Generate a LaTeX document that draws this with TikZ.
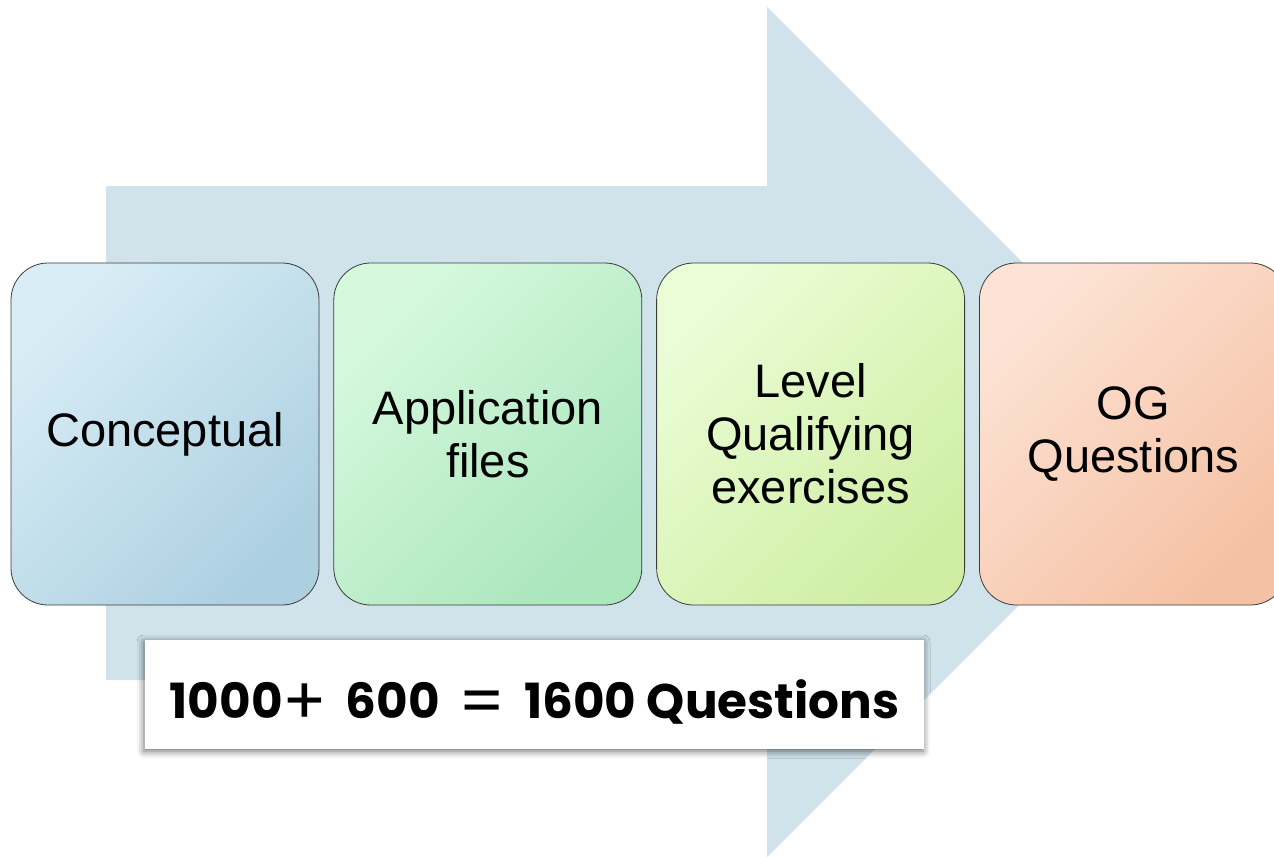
\documentclass[tikz,border=0pt]{standalone}
\usepackage{fontspec}
\usepackage{tikz}
\usetikzlibrary{positioning,shadows.blur}
\setmainfont{Liberation Sans}
\newfontfamily\totalfont{Poppins}
\definecolor{arrowfill}{HTML}{D0E2EA}
\definecolor{stageedge}{HTML}{3C3C3C}
\definecolor{conceptlight}{HTML}{D8EDF6}
\definecolor{conceptdark}{HTML}{ADD0E1}
\definecolor{applylight}{HTML}{D6F9DE}
\definecolor{applydark}{HTML}{ABE6BD}
\definecolor{levellight}{HTML}{EAFDD6}
\definecolor{leveldark}{HTML}{CFEEA4}
\definecolor{oglight}{HTML}{FDE3D5}
\definecolor{ogdark}{HTML}{F5C1A4}
\newcommand{\bigop}[1]{{\mdseries\raisebox{-6pt}{\scalebox{1.35}{#1}}}}
\tikzstyle{stagebox} = [
    rectangle,
    rounded corners=37pt,
    draw=stageedge,
    line width=0.8pt,
    minimum width=308pt,
    minimum height=342pt,
    text width=290pt,
    align=center,
    font=\fontsize{47}{53}\selectfont
    ]
\tikzstyle{totalbox} = [
    fill=white,
    minimum width=779pt,
    minimum height=109pt,
    text height=50pt,
    text depth=3pt,
    blur shadow={shadow xshift=-1pt, shadow yshift=-2pt, shadow blur radius=7pt, shadow opacity=60},
    font=\totalfont\bfseries\fontsize{48.5}{56}\selectfont
    ]
\tikzset{stagecolors/.style 2 args={top color=#1, bottom color=#2, shading angle=45}}

\begin{document}
\begin{tikzpicture}[x=1pt,y=-1pt]
\useasboundingbox (0,0) rectangle (1274,857);
\clip (0,0) rectangle (1274,857);
% big arrow behind the stages
\fill[arrowfill] (106,186) -- (767,186) -- (767,7) -- (1192,432)
    -- (767,857) -- (767,680) -- (106,680) -- cycle;
\node[stagebox, stagecolors={conceptlight}{conceptdark}] (concept) at (165,434) {Conceptual};
\node[stagebox, stagecolors={applylight}{applydark}, right=14pt of concept] (application) {Application\\files};
\node[stagebox, stagecolors={levellight}{leveldark}, right=14pt of application] (level) {Level\\Qualifying\\exercises};
\node[stagebox, stagecolors={oglight}{ogdark}, right=14pt of level] (og) {OG\\Questions};
\node[totalbox] (total) at (534.5,694.5) {1000\bigop{+}\, 600 \,\bigop{=}\, 1600 Questions};
\end{tikzpicture}
\end{document}
